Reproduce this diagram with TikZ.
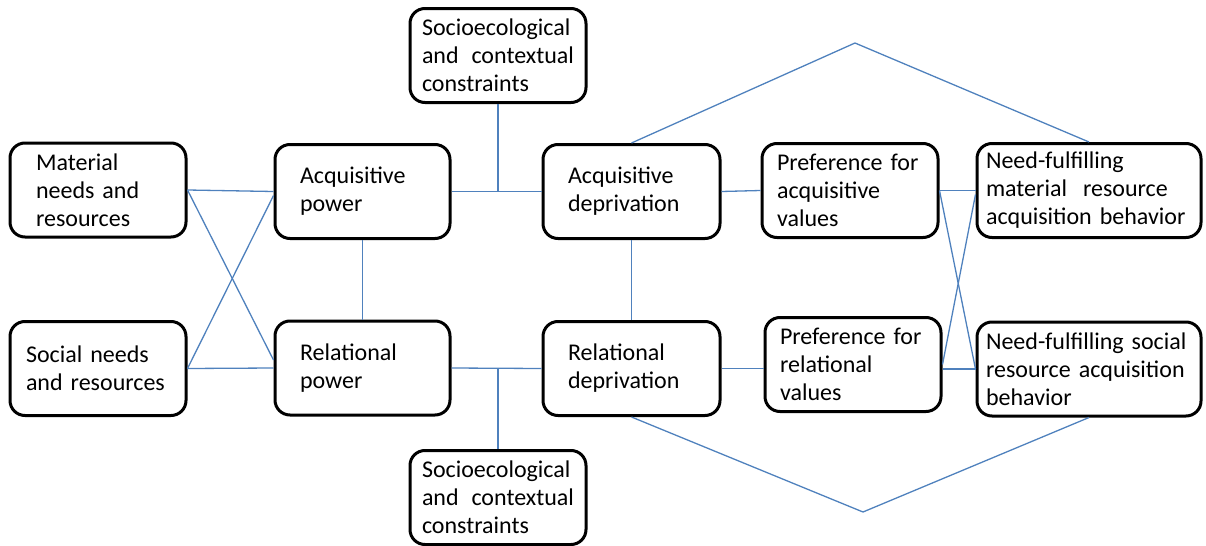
\documentclass[tikz,border=0pt]{standalone}
\usepackage{fontspec}
\setmainfont{Carlito}
\definecolor{azulinea}{RGB}{79,129,189}
\newcommand{\fuentecaja}{\fontsize{12pt}{14pt}\selectfont}
\begin{document}
\begin{tikzpicture}[x=0.5pt, y=-0.5pt,
    caja/.style={draw=black, line width=1.5pt, rounded corners=7.5pt, fill=white,
        minimum height=47pt, inner ysep=2pt, align=left, font=\fuentecaja},
    linea/.style={draw=azulinea, line width=0.65pt}]
    \useasboundingbox (0,0) rectangle (1206,546);

    % Necesidades y recursos
    \node[caja, text width=62pt, inner xsep=13pt] (material) at (98,190) {Material\\needs and\\resources};
    \node[caja, text width=72pt, inner xsep=8pt] (social) at (98,368.5) {Social needs\\and resources};

    % Poder
    \node[caja, text width=62.5pt, inner xsep=12.5pt] (acqpow) at (362.5,191.5) {Acquisitive\\power};
    \node[caja, text width=62.5pt, inner xsep=12.5pt] (relpow) at (362.5,368) {Relational\\power};

    % Restricciones
    \node[caja, text width=76pt, inner xsep=6pt, align=justify] (socioA) at (498,55.5) {\mbox{Socioecological} and contextual constraints};
    \node[caja, text width=76pt, inner xsep=6pt, align=justify] (socioB) at (498,497.5) {\mbox{Socioecological} and contextual constraints};

    % Privacion
    \node[caja, text width=63.5pt, inner xsep=12.5pt] (acqdep) at (631.5,191.5) {Acquisitive\\deprivation};
    \node[caja, text width=63.5pt, inner xsep=12.5pt] (reldep) at (631.5,368.5) {Relational\\deprivation};

    % Preferencias
    \node[caja, text width=73pt, inner xsep=7.5pt] (prefA) at (850,190.5) {Preference for\\acquisitive\\values};
    \node[caja, text width=73pt, inner xsep=7.5pt] (prefR) at (853,364.5) {Preference for\\relational\\values};

    % Conductas
    \node[caja, text width=103pt, inner xsep=4.5pt] (needM) at (1089,190.5) {Need-fulfilling\\material\ \ resource\\acquisition behavior};
    \node[caja, text width=103pt, inner xsep=4.5pt] (needS) at (1089,369) {Need-fulfilling social\\resource acquisition\\behavior};

    % Vertices de los rombos
    \coordinate (cima) at (855,43);
    \coordinate (fondo) at (863,512);

    % Conexiones
    \draw[linea] (material.east) -- (acqpow.west);
    \draw[linea] (material.east) -- ([yshift=4pt]relpow.west);
    \draw[linea] (social.east) -- ([yshift=-2pt]acqpow.west);
    \draw[linea] (social.east) -- (relpow.west);
    \draw[linea] (acqpow.south) -- (relpow.north);
    \draw[linea] (acqpow.east) -- (acqdep.west);
    \draw[linea] (relpow.east) -- (reldep.west);
    \draw[linea] (socioA.south) -- (socioA.south |- acqpow.east);
    \draw[linea] (socioB.north) -- (socioB.north |- relpow.east);
    \draw[linea] (acqdep.south) -- (reldep.north);
    \draw[linea] (acqdep.east) -- (prefA.west);
    \draw[linea] (reldep.east) -- (reldep.east -| prefR.west);
    \draw[linea] (prefA.east) -- (needM.west);
    \draw[linea] (prefA.east) -- (needS.west);
    \draw[linea] (prefR.east) -- ([yshift=-2pt]needM.west);
    \draw[linea] (needS.west -| prefR.east) -- (needS.west);
    \draw[linea] (acqdep.north) -- (cima) -- (needM.north);
    \draw[linea] (reldep.south) -- (fondo) -- (needS.south);
\end{tikzpicture}
\end{document}
